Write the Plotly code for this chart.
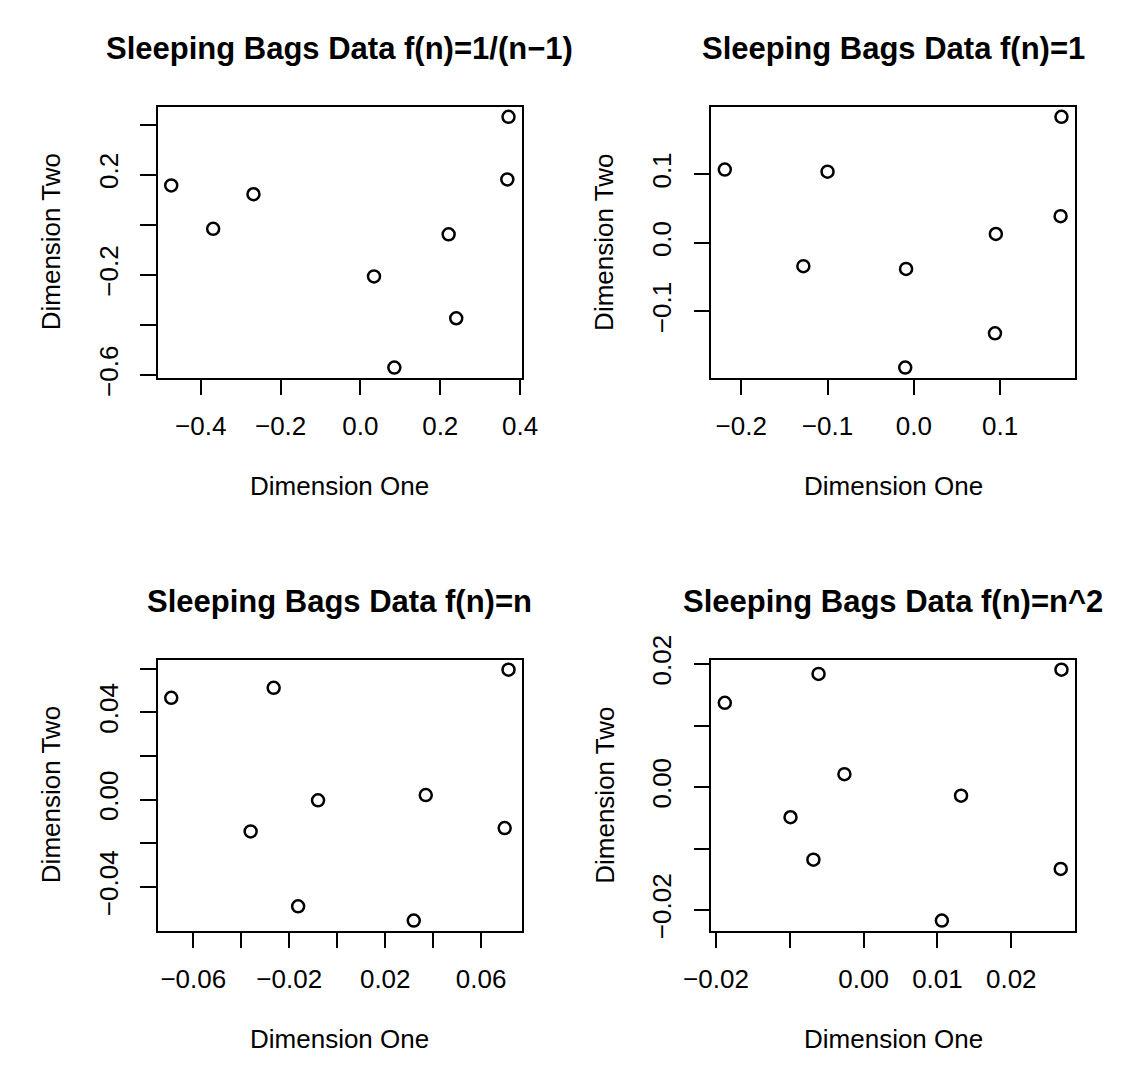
import plotly.graph_objects as go

W, H = 1131, 1074

# ---- data ----
titles = ["Sleeping Bags Data f(n)=1/(n\u22121)", "Sleeping Bags Data f(n)=1",
          "Sleeping Bags Data f(n)=n", "Sleeping Bags Data f(n)=n^2"]

p1_x = [-0.474, -0.369, -0.268, 0.034, 0.085, 0.221, 0.240, 0.368, 0.371]
p1_y = [0.157, -0.016, 0.122, -0.206, -0.570, -0.038, -0.373, 0.181, 0.431]

p2_x = [-0.219, -0.100, -0.128, -0.009, -0.010, 0.095, 0.094, 0.170, 0.171]
p2_y = [0.107, 0.104, -0.034, -0.038, -0.182, 0.013, -0.132, 0.039, 0.184]

p3_x = [-0.0692, -0.0265, -0.0361, -0.0080, -0.0163, 0.0319, 0.0369, 0.0698, 0.0714]
p3_y = [0.0466, 0.0512, -0.0145, -0.0003, -0.0488, -0.0553, 0.0021, -0.0130, 0.0595]

p4_x = [-0.0188, -0.0061, -0.0026, -0.0099, -0.0068, 0.0106, 0.0132, 0.0267, 0.0268]
p4_y = [0.0137, 0.0184, 0.0021, -0.0049, -0.0118, -0.0217, -0.0014, -0.0133, 0.0191]

p1_xticks = [-0.4, -0.2, 0.0, 0.2, 0.4]
p1_xlabels = ["\u22120.4", "\u22120.2", "0.0", "0.2", "0.4"]
p1_yticks = [-0.6, -0.4, -0.2, 0.0, 0.2, 0.4]
p1_ylabels = ["\u22120.6", "", "\u22120.2", "", "0.2", ""]

p2_xticks = [-0.2, -0.1, 0.0, 0.1]
p2_xlabels = ["\u22120.2", "\u22120.1", "0.0", "0.1"]
p2_yticks = [-0.1, 0.0, 0.1]
p2_ylabels = ["\u22120.1", "0.0", "0.1"]

p3_xticks = [-0.06, -0.04, -0.02, 0.0, 0.02, 0.04, 0.06]
p3_xlabels = ["\u22120.06", "", "\u22120.02", "", "0.02", "", "0.06"]
p3_yticks = [-0.04, -0.02, 0.0, 0.02, 0.04, 0.06]
p3_ylabels = ["\u22120.04", "", "0.00", "", "0.04", ""]

p4_xticks = [-0.02, -0.01, 0.0, 0.01, 0.02]
p4_xlabels = ["\u22120.02", "", "0.00", "0.01", "0.02"]
p4_yticks = [-0.02, -0.01, 0.0, 0.01, 0.02]
p4_ylabels = ["\u22120.02", "", "0.00", "", "0.02"]

x_label = "Dimension One"
y_label = "Dimension Two"

# ---- layout geometry (pixels) ----
FONT = "Liberation Sans, Arial, Helvetica, sans-serif"
cols = [(135, 514), (711, 1089.3)]
rows = [(85.3, 367.7), (661.7, 944.3)]

panels = [
    (p1_x, p1_y, p1_xticks, p1_xlabels, p1_yticks, p1_ylabels),
    (p2_x, p2_y, p2_xticks, p2_xlabels, p2_yticks, p2_ylabels),
    (p3_x, p3_y, p3_xticks, p3_xlabels, p3_yticks, p3_ylabels),
    (p4_x, p4_y, p4_xticks, p4_xlabels, p4_yticks, p4_ylabels),
]


def padded(v):
    lo, hi = min(v), max(v)
    d = (hi - lo) * 0.04
    return [lo - d, hi + d]


fig = go.Figure()
layout = dict(
    width=W, height=H, margin=dict(l=0, r=0, t=0, b=0),
    paper_bgcolor="white", plot_bgcolor="white", showlegend=False,
    font=dict(family=FONT, size=26, color="black"),
)
annotations = []

for i, (xs, ys, xt, xl, yt, yl) in enumerate(panels):
    r, c = divmod(i, 2)
    x0, x1 = cols[c]
    y0, y1 = rows[r]
    n = i + 1
    xa = "x" if n == 1 else f"x{n}"
    ya = "y" if n == 1 else f"y{n}"
    fig.add_trace(go.Scatter(
        x=xs, y=ys, mode="markers", xaxis=xa, yaxis=ya,
        marker=dict(symbol="circle-open", size=12, color="black",
                    line=dict(width=2.5, color="black")),
    ))
    common = dict(showgrid=False, zeroline=False, showline=True, mirror=True,
                  linecolor="black", linewidth=1.5, ticks="outside", ticklen=16,
                  tickwidth=1.5, tickcolor="black", tickmode="array",
                  tickfont=dict(family=FONT, size=26, color="black"))
    layout["xaxis" if n == 1 else f"xaxis{n}"] = dict(
        common, domain=[x0 / W, x1 / W], range=padded(xs),
        tickvals=xt, ticktext=xl, anchor=ya, ticklabelstandoff=8)
    layout["yaxis" if n == 1 else f"yaxis{n}"] = dict(
        common, domain=[1 - y1 / H, 1 - y0 / H], range=padded(ys),
        tickvals=yt, ticktext=yl, anchor=xa, tickangle=-90, ticklabelstandoff=12)
    cx = (x0 + x1) / 2 / W
    cy = 1 - (y0 + y1) / 2 / H
    annotations.append(dict(text=f"<b>{titles[i]}</b>", xref="paper", yref="paper",
                            x=cx, y=1 - (y0 - 61) / H, xanchor="center", yanchor="middle",
                            showarrow=False, font=dict(family=FONT, size=31, color="black")))
    annotations.append(dict(text=x_label, xref="paper", yref="paper",
                            x=cx, y=1 - (y1 + 113) / H, xanchor="center", yanchor="middle",
                            showarrow=False, font=dict(family=FONT, size=26, color="black")))
    annotations.append(dict(text=y_label, xref="paper", yref="paper",
                            x=(x0 - 111) / W, y=cy, xanchor="center", yanchor="middle",
                            textangle=-90, showarrow=False,
                            font=dict(family=FONT, size=26, color="black")))

layout["annotations"] = annotations
fig.update_layout(**layout)
fig.write_html("out.html")
